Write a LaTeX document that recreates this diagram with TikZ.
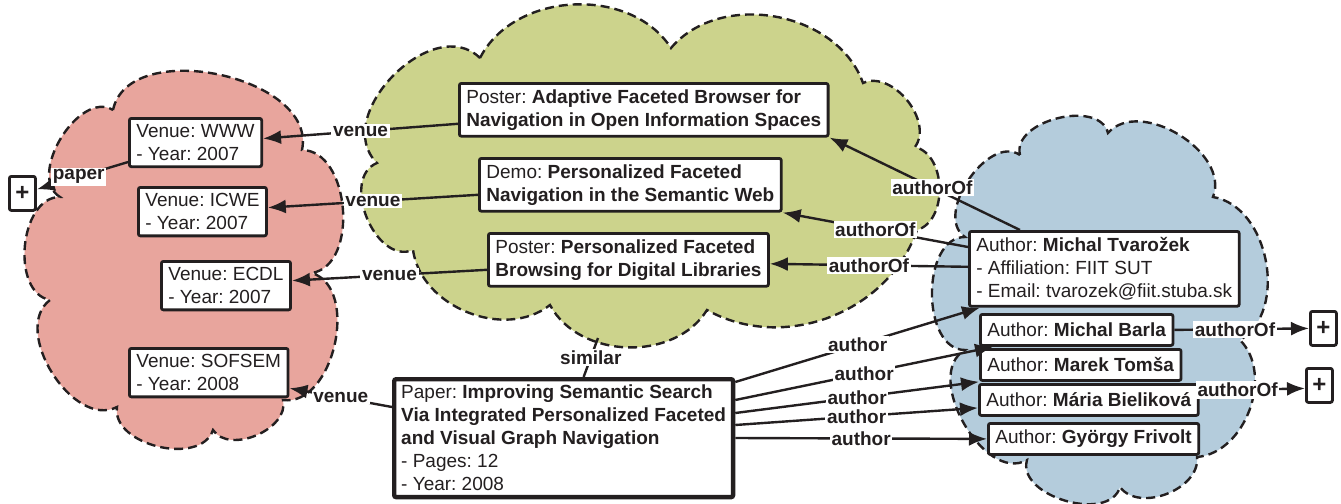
\documentclass[tikz,border=0pt]{standalone}
\usepackage{fontspec}
\setmainfont{Liberation Sans}
\usepackage{tikz}
\usetikzlibrary{arrows.meta}

\definecolor{ink}{HTML}{231F20}
\definecolor{venuepink}{HTML}{E8A59D}
\definecolor{topicgreen}{HTML}{CCD38C}
\definecolor{peopleblue}{HTML}{B4CCDC}
\newcommand{\boxfont}{\fontsize{9.5}{11.5}\selectfont}
\frenchspacing

\begin{document}
\begin{tikzpicture}[
    x=0.5pt, y=-0.5pt,
    >={Latex[length=9pt,width=7pt]},
    cloudline/.style={draw=ink, line width=1.2pt, dash pattern=on 4.5pt off 2.5pt},
    itembox/.style={draw=ink, fill=white, text=ink, line width=1.4pt,
      rounded corners=1pt, align=left, anchor=north west,
      inner xsep=3.5pt, inner ysep=3pt, font=\boxfont},
    paperbox/.style={itembox, line width=2.2pt},
    authorbox/.style={itembox, minimum height=15.5pt},
    plusbox/.style={draw=ink, fill=white, text=ink, line width=1.4pt,
      rounded corners=1pt, anchor=north west, inner sep=0pt,
      minimum width=13pt, minimum height=17pt,
      font=\fontsize{12}{12}\selectfont\bfseries},
    rel/.style={fill=white, text=ink, inner sep=0.8pt, font=\boxfont\bfseries},
    link/.style={ink, line width=1.2pt, ->}]
  \useasboundingbox (0,0) rectangle (1341,504);

  % clouds
  \draw[cloudline, fill=venuepink] (113,110) to[bend left=90] (302,150)
    to[bend left=85] (312,273) to[bend left=85] (283,400)
    to[bend left=80] (213,430) to[bend left=85] (117,407)
    to[bend left=85] (50,300) to[bend left=85] (60,197)
    to[bend left=90] (113,110) -- cycle;
  \draw[cloudline, fill=topicgreen] (480,58) to[bend left=60] (671,48)
    to[bend left=60] (863,83) to[bend left=75] (915,147)
    to[bend left=75] (917,230) to[bend left=50] (707,310)
    to[bend left=60] (550,305) to[bend left=60] (413,250)
    to[bend left=90, looseness=1.1] (377,163)
    to[bend left=90, looseness=1.15] (480,58) -- cycle;
  \draw[cloudline, fill=peopleblue] (1020,155) to[bend left=90] (1108,133)
    to[bend left=80] (1213,197) to[bend left=70] (1240,340)
    to[bend left=65] (1197,457) to[bend left=75] (1120,487)
    to[bend left=90] (1027,460) to[bend left=90] (965,350)
    to[bend left=90] (965,237) to[bend left=90] (1020,155) -- cycle;
  \coordinate (greenbottom) at (598,338);

  % venues
  \node[itembox] (www) at (128,117) {Venue: WWW\\- Year: 2007};
  \node[itembox] (icwe) at (137,186) {Venue: ICWE\\- Year: 2007};
  \node[itembox] (ecdl) at (160,260) {Venue: ECDL\\- Year: 2007};
  \node[itembox] (sofsem) at (128,347) {Venue: SOFSEM\\- Year: 2008};
  \node[plusbox] (plusl) at (8,175) {+};

  % similar papers
  \node[itembox] (adaptive) at (458,82)
    {Poster: \textbf{Adaptive Faceted Browser for}\\\textbf{Navigation in Open Information Spaces}};
  \node[itembox] (demo) at (478,157)
    {Demo: \textbf{Personalized Faceted}\\\textbf{Navigation in the Semantic Web}};
  \node[itembox] (pfb) at (487,232)
    {Poster: \textbf{Personalized Faceted}\\\textbf{Browsing for Digital Libraries}};

  \node[paperbox] (paper) at (392,377)
    {Paper: \textbf{Improving Semantic Search}\\\textbf{Via Integrated Personalized Faceted}\\
     \textbf{and Visual Graph Navigation}\\- Pages: 12\\- Year: 2008};

  % authors
  \node[itembox] (tvarozek) at (968,230)
    {Author: \textbf{Michal Tvarožek}\\- Affiliation: FIIT SUT\\- Email: tvarozek@fiit.stuba.sk};
  \node[authorbox] (barla) at (979,313) {Author: \textbf{Michal Barla}};
  \node[authorbox] (tomsa) at (979,348) {Author: \textbf{Marek Tomša}};
  \node[authorbox] (bielikova) at (978,383) {Author: \textbf{Mária Bieliková}};
  \node[authorbox] (frivolt) at (987,422) {Author: \textbf{György Frivolt}};
  \node[plusbox] (plusa) at (1309,310) {+};
  \node[plusbox] (plusb) at (1305,367) {+};

  \path[link]
    ([yshift=-7pt]adaptive.west) edge node[rel] {venue} ([yshift=2pt]www.east)
    ([yshift=-5pt]demo.west) edge node[rel] {venue} ([yshift=2pt]icwe.east)
    ([yshift=-5pt]pfb.west) edge node[rel] {venue} ([yshift=2.5pt]ecdl.east)
    ([yshift=-15pt]paper.north west) edge node[rel] {venue} ([yshift=5pt]sofsem.south east)
    ([yshift=3pt]www.south west) edge node[rel, pos=0.54] {paper} ([yshift=2pt]plusl.east)
    ([xshift=10pt]paper.north) edge[-] node[rel] {similar} (greenbottom)
    ([xshift=26pt]tvarozek.north west) edge node[rel, pos=0.46] {authorOf} (adaptive.south east)
    ([yshift=-8.5pt]tvarozek.north west) edge node[rel] {authorOf} (demo.south east)
    ([yshift=1pt]tvarozek.west) edge node[rel] {authorOf} ([yshift=-2pt]pfb.east)
    ([yshift=-2.5pt]paper.north east) edge node[rel] {author} ([xshift=6pt]tvarozek.south west)
    ([yshift=-11.5pt]paper.north east) edge node[rel] {author} ([xshift=7pt]barla.south west)
    ([yshift=-18pt]paper.north east) edge node[rel] {author} (tomsa.south west)
    ([yshift=-24pt]paper.north east) edge node[rel] {author} ([yshift=-4pt]bielikova.west)
    ([yshift=-30.5pt]paper.north east) edge node[rel] {author} (frivolt.west)
    (barla.east) edge node[rel, pos=0.45] {authorOf} (plusa.west)
    ([yshift=4.5pt]bielikova.east) edge node[rel, pos=0.36] {authorOf} ([yshift=-1.5pt]plusb.west);
\end{tikzpicture}
\end{document}
